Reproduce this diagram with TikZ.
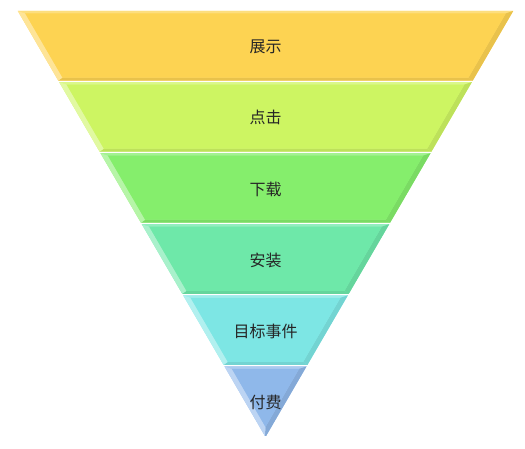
\documentclass[tikz,border=0pt]{standalone}
\usepackage{fontspec}
\newfontfamily\cjk{Noto Sans CJK SC}
\usetikzlibrary{calc}

\definecolor{showcol}{HTML}{FDD352}
\definecolor{clickcol}{HTML}{CDF562}
\definecolor{downcol}{HTML}{85EE6C}
\definecolor{installcol}{HTML}{6EE8A9}
\definecolor{eventcol}{HTML}{7DE6E4}
\definecolor{paycol}{HTML}{8FB8EA}

\begin{document}
\begin{tikzpicture}[x=1pt, y=-1pt,
        stage/.style={font=\cjk\fontsize{16}{19}\selectfont, text=black!85, inner sep=0pt},
    ]
    \useasboundingbox (0,0) rectangle (525,449);
    \def\cx{265.5}
    % Funnel stages, top to bottom
    \foreach \i/\col/\txt/\nm in {0/showcol/展示/show, 1/clickcol/点击/click,
        2/downcol/下载/download, 3/installcol/安装/install,
        4/eventcol/目标事件/event, 5/paycol/付费/pay} {
        \pgfmathsetmacro{\yt}{11+71.08*\i}
        \pgfmathsetmacro{\yb}{9.5+71.08*(\i+1)}
        \pgfmathsetmacro{\hwt}{0.58148*(437-\yt)}
        \pgfmathsetmacro{\hwb}{0.58148*(437-\yb)}
        % bevel
        \pgfmathsetmacro{\yit}{\yt+2.5}
        \pgfmathsetmacro{\yib}{min(\yb-3,427)}
        \pgfmathsetmacro{\hwit}{0.58148*(437-\yit)-6}
        \pgfmathsetmacro{\hwib}{max(0.58148*(437-\yib)-6,0)}
        \coordinate (a) at (\cx-\hwt,\yt);
        \coordinate (b) at (\cx+\hwt,\yt);
        \coordinate (c) at (\cx+\hwb,\yb);
        \coordinate (d) at (\cx-\hwb,\yb);
        \coordinate (ai) at (\cx-\hwit,\yit);
        \coordinate (bi) at (\cx+\hwit,\yit);
        \coordinate (ci) at (\cx+\hwib,\yib);
        \coordinate (di) at (\cx-\hwib,\yib);
        \fill[\col!80!white] (a) -- (b) -- (c) -- (d) -- cycle;
        \fill[\col!75!white] (a) -- (b) -- (bi) -- (ai) -- cycle;
        \fill[\col!92!black] (b) -- (c) -- (ci) -- (bi) -- cycle;
        \fill[\col!92!black] (d) -- (c) -- (ci) -- (di) -- cycle;
        \fill[\col!60!white] (a) -- (d) -- (di) -- (ai) -- cycle;
        \fill[\col] (ai) -- (bi) -- (ci) -- (di) -- cycle;
        \node[stage] (\nm) at (\cx,{(\yt+\yb)/2+1}) {\txt};
    }
\end{tikzpicture}
\end{document}
